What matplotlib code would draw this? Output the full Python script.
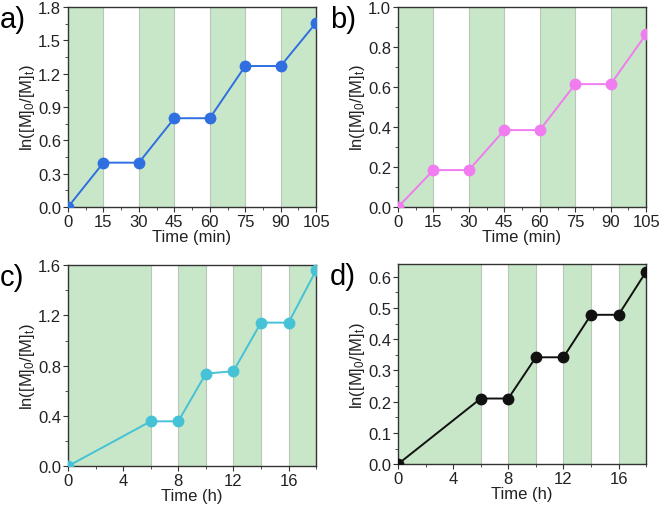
import numpy as np
import matplotlib
matplotlib.use("Agg")
import matplotlib.pyplot as plt
from matplotlib.ticker import AutoMinorLocator

plt.rcParams['font.family'] = ['Liberation Sans', 'DejaVu Sans']
plt.rcParams['mathtext.fontset'] = 'custom'
plt.rcParams['mathtext.rm'] = 'Liberation Sans'
plt.rcParams['mathtext.it'] = 'Liberation Sans:italic'

# Datos
t_min = [0, 15, 30, 45, 60, 75, 90, 105]
y_a = [0.0, 0.40, 0.40, 0.80, 0.80, 1.27, 1.27, 1.66]
y_b = [0.0, 0.185, 0.185, 0.385, 0.385, 0.615, 0.615, 0.865]

t_h = [0, 6, 8, 10, 12, 14, 16, 18]
y_c = [0.0, 0.357, 0.357, 0.737, 0.756, 1.143, 1.143, 1.56]
y_d = [0.0, 0.21, 0.21, 0.342, 0.342, 0.478, 0.478, 0.616]

# Bandas verdes (luz encendida)
bands_min = [(0, 15), (30, 45), (60, 75), (90, 105)]
bands_h = [(0, 6), (8, 10), (12, 14), (16, 18)]

ticks_min = [0, 15, 30, 45, 60, 75, 90, 105]
ticks_h = [0, 4, 8, 12, 16]

green = '#c8e6c8'
ylabel = r'ln([M]$_\mathregular{0}$/[M]$_\mathregular{t}$)'

fig = plt.figure(figsize=(6.6, 5.1), dpi=100)

paneles = [
    # label, pos, x, y, color, bands, xlim, xticks, ylim, yticks, xlabel
    ("a)", [0.103, 0.592, 0.376, 0.392], t_min, y_a, '#2f6fe0', bands_min,
     (0, 105), ticks_min, (0, 1.8), np.arange(0, 1.81, 0.3), "Time (min)"),
    ("b)", [0.603, 0.592, 0.376, 0.392], t_min, y_b, '#f07cf0', bands_min,
     (0, 105), ticks_min, (0, 1.0), np.arange(0, 1.01, 0.2), "Time (min)"),
    ("c)", [0.103, 0.084, 0.376, 0.394], t_h, y_c, '#45c2d6', bands_h,
     (0, 18), ticks_h, (0, 1.6), np.arange(0, 1.61, 0.4), "Time (h)"),
    ("d)", [0.603, 0.088, 0.376, 0.392], t_h, y_d, '#111111', bands_h,
     (0, 18), ticks_h, (0, 0.64), np.arange(0, 0.61, 0.1), "Time (h)"),
]

for label, pos, x, y, color, bands, xlim, xticks, ylim, yticks, xlabel in paneles:
    ax = fig.add_axes(pos)
    for a0, a1 in bands:
        ax.axvspan(a0, a1, facecolor=green, edgecolor='#b8c8b8', linewidth=0.8, zorder=0)
    ax.plot(x, y, '-o', color=color, linewidth=1.4, markersize=7.5, zorder=3)
    ax.set_xlim(*xlim)
    ax.set_ylim(*ylim)
    ax.set_xticks(xticks)
    ax.set_yticks(yticks)
    ax.set_yticklabels(["%.1f" % v for v in yticks])
    ax.xaxis.set_minor_locator(AutoMinorLocator(2))
    ax.yaxis.set_minor_locator(AutoMinorLocator(2))
    ax.tick_params(which='both', direction='out', top=False, right=False,
                   labelsize=12, pad=1.5, colors='#333333', labelcolor='#222222')
    ax.tick_params(which='major', length=3.5, width=0.8)
    ax.tick_params(which='minor', length=2, width=0.6)
    for s in ax.spines.values():
        s.set_linewidth(1.0)
        s.set_color('#333333')
    ax.set_xlabel(xlabel, fontsize=12, labelpad=0, color='#222222')
    ax.set_ylabel(ylabel, fontsize=12, labelpad=1, color='#222222')
    fig.text(pos[0] - 0.103, pos[1] + pos[3] + 0.004, label, fontsize=21,
             ha='left', va='top')

fig.savefig("out.png", dpi=100)
plt.close()
